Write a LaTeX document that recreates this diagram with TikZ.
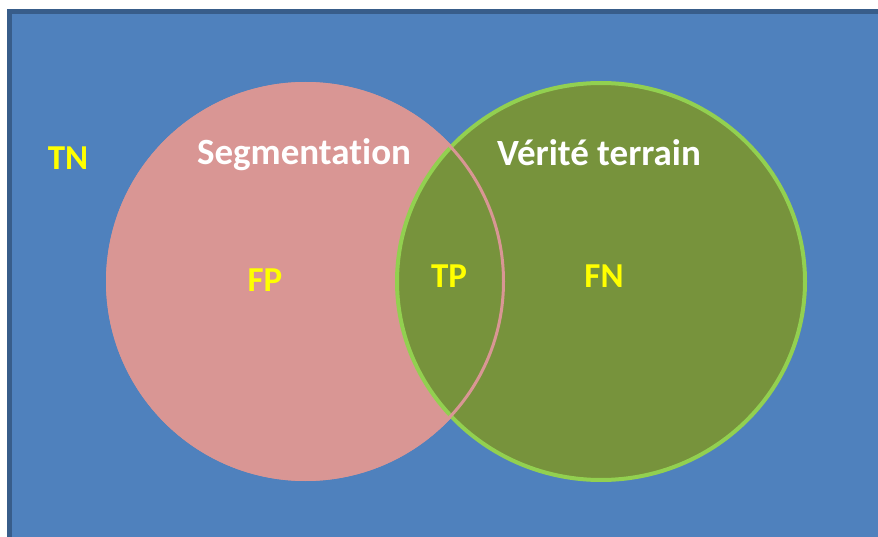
\documentclass[tikz,border=0pt]{standalone}
\usepackage{fontspec}
\setmainfont[Ligatures=NoCommon]{Carlito}
\definecolor{bgblue}{HTML}{4F81BD}
\definecolor{bgedge}{HTML}{385D8A}
\definecolor{segpink}{HTML}{D99694}
\definecolor{vtgreen}{HTML}{77933C}
\definecolor{vtedge}{HTML}{92D050}
\definecolor{lblyellow}{HTML}{FFFF00}
\tikzset{
  title/.style={text=white, font=\fontsize{37}{42}\selectfont\bfseries, anchor=base, inner sep=0pt},
  cls/.style={text=lblyellow, font=\fontsize{35}{40}\selectfont\bfseries, anchor=base, inner sep=0pt},
}
\begin{document}
\begin{tikzpicture}[x=1pt,y=-1pt]
\useasboundingbox (0,0) rectangle (878,537);
\fill[white] (0,0) rectangle (878,537);
\fill[bgedge] (7,9) rectangle (878,537);
\fill[bgblue] (12,14) rectangle (878,537);
% Segmentation circle
\fill[segpink] (305.5,281.5) circle[radius=199.5];
% Ground truth circle
\filldraw[fill=vtgreen, draw=vtedge, line width=4pt] (601,281.5) ellipse[x radius=204, y radius=198.5];
% pink outline on top
\draw[segpink, line width=3pt] (305.5,281.5) circle[radius=198];
\node[title] (seg) at (304,165) {Segmentation};
\node[title] (vt) at (599,166) {Vérité terrain};
\node[cls] (tn) at (68,170) {TN};
\node[cls] (fp) at (265,292) {FP};
\node[cls] (tp) at (449,288) {TP};
\node[cls] (fn) at (604,288) {FN};
\end{tikzpicture}
\end{document}
